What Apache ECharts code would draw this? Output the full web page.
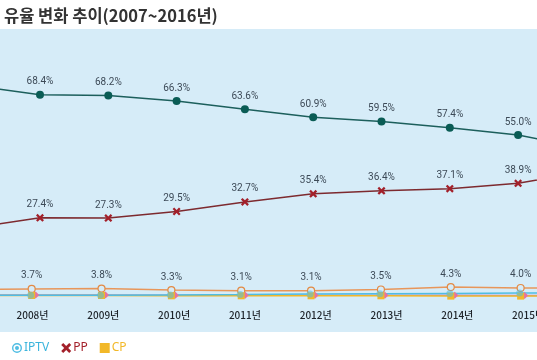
<!DOCTYPE html>
<html><head><meta charset="utf-8">
<script src="https://cdn.jsdelivr.net/npm/echarts@6/dist/echarts.min.js"></script>
<style>html,body{margin:0;padding:0;background:#fff}#c{width:537px;height:360px}</style>
</head><body><div id="c"></div>
<script>
const years = ['2007년','2008년','2009년','2010년','2011년','2012년','2013년','2014년','2015년','2016년'];
const terrestrial = [71.5, 68.4, 68.2, 66.3, 63.6, 60.9, 59.5, 57.4, 55.0, 50.5];
const pp = [24.0, 27.4, 27.3, 29.5, 32.7, 35.4, 36.4, 37.1, 38.9, 43.0];
const etc = [3.5, 3.7, 3.8, 3.3, 3.1, 3.1, 3.5, 4.3, 4.0, 4.0];
const iptv = [1.5, 1.6, 1.6, 1.7, 1.8, 2.0, 2.1, 2.2, 2.3, 2.3];
const cp = [1.5, 1.5, 1.5, 1.4, 1.4, 1.4, 1.4, 1.3, 1.3, 1.3];
const other2 = [1.7, 1.7, 1.7, 1.6, 1.6, 1.6, 1.6, 1.6, 1.5, 1.5];
const titleText = '유율 변화 추이(2007~2016년)';

const X_PATH = 'path://M2,0L5,3L8,0L10,2L7,5L10,8L8,10L5,7L2,10L0,8L3,5L0,2Z';
const RING_PATH = 'path://M10,5A5,5,0,1,1,0,5A5,5,0,1,1,10,5ZM8.6,5A3.6,3.6,0,1,0,1.4,5A3.6,3.6,0,1,0,8.6,5ZM7,5A2,2,0,1,1,3,5A2,2,0,1,1,7,5Z';

const chart = echarts.init(document.getElementById('c'), null, {renderer: 'canvas'});
const lbl = {
  show: true, position: 'top', distance: 4,
  fontFamily: 'Roboto', fontSize: 10, color: '#3d4a57',
  formatter: p => p.value.toFixed(1) + '%'
};
const yBase = {type: 'value', min: 0, max: 90, show: false};
const xBase = {type: 'category', data: years, boundaryGap: true, axisLine: {show: false}, axisTick: {show: false}, axisLabel: {show: false}, splitLine: {show: false}};
const gBase = {top: 30, bottom: 60, containLabel: false, outerBoundsMode: 'none'};

chart.setOption({
  animation: false,
  backgroundColor: '#ffffff',
  title: {text: titleText, left: -1, top: 2, textStyle: {fontFamily: 'Noto Sans CJK KR', fontSize: 16.5, fontWeight: 'bold', color: '#333333'}},
  graphic: {elements: [
    {type: 'rect', z: -10, shape: {x: 0, y: 29, width: 537, height: 303}, style: {fill: '#d6ecf8'}}
  ]},
  legend: {
    left: 7, top: 337, itemWidth: 10, itemHeight: 10, itemGap: 12,
    textStyle: {fontFamily: 'Noto Sans', fontSize: 12, padding: [0,0,0,-3]},
    data: [
      {name: 'IPTV', icon: RING_PATH, itemStyle: {color: '#4fbde3'}, textStyle: {color: '#3ab4dc'}},
      {name: 'PP', icon: X_PATH, itemStyle: {color: '#a3202a'}, textStyle: {color: '#a3202a'}},
      {name: 'CP', icon: 'rect', itemStyle: {color: '#f2b829'}, textStyle: {color: '#f2b829'}}
    ]
  },
  grid: [
    Object.assign({left: -62.45, width: 683}, gBase),
    Object.assign({left: -73.1, width: 698.5}, gBase),
    Object.assign({left: -73.7, width: 708}, gBase)
  ],
  xAxis: [
    Object.assign({}, xBase, {gridIndex: 0}),
    Object.assign({}, xBase, {gridIndex: 1}),
    Object.assign({}, xBase, {gridIndex: 2, axisLabel: {show: true, margin: 10, fontFamily: 'Noto Sans CJK KR', fontSize: 10, fontWeight: 500, color: '#1e2329'}})
  ],
  yAxis: [
    Object.assign({}, yBase, {gridIndex: 0}),
    Object.assign({}, yBase, {gridIndex: 1}),
    Object.assign({}, yBase, {gridIndex: 2})
  ],
  series: [
    {name: '지상파', type: 'line', xAxisIndex: 0, yAxisIndex: 0, data: terrestrial,
     symbol: 'circle', symbolSize: 8, lineStyle: {color: '#1c5f5c', width: 1.5}, itemStyle: {color: '#0a5c55'}, label: lbl},
    {name: 'PP', type: 'line', xAxisIndex: 0, yAxisIndex: 0, data: pp,
     symbol: X_PATH, symbolSize: 8, lineStyle: {color: '#7d2a2f', width: 1.5}, itemStyle: {color: '#a3202a'}, label: lbl},
    {name: '기타', type: 'line', xAxisIndex: 1, yAxisIndex: 1, data: etc,
     symbol: 'circle', symbolSize: 7, lineStyle: {color: '#e8965a', width: 1.5}, itemStyle: {color: '#d6ecf8', borderColor: '#e38a44', borderWidth: 1.2}, label: lbl},
    {name: '기타2', type: 'line', xAxisIndex: 1, yAxisIndex: 1, data: other2,
     symbol: 'diamond', symbolSize: 7, symbolOffset: [4, 0], lineStyle: {color: '#b28bd0', width: 1.5}, itemStyle: {color: '#e6739f'}},
    {name: 'CP', type: 'line', xAxisIndex: 1, yAxisIndex: 1, data: cp,
     symbol: 'rect', symbolSize: 7, lineStyle: {color: '#f2b829', width: 1.5}, itemStyle: {color: '#f2b829'}},
    {name: 'IPTV', type: 'line', xAxisIndex: 1, yAxisIndex: 1, data: iptv,
     symbol: 'circle', symbolSize: 7, symbolOffset: [-1, 0], lineStyle: {color: '#4fbde3', width: 1.5}, itemStyle: {color: 'rgba(79,189,227,0.55)'}}
  ]
});
</script>
</body></html>
